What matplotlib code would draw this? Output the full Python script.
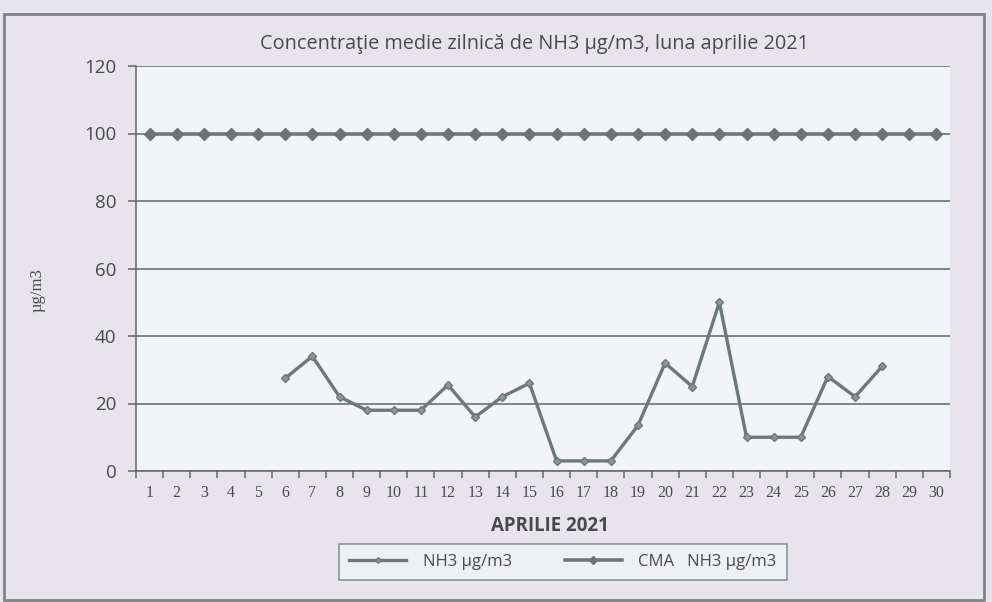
import numpy as np
import matplotlib
matplotlib.use('Agg')
import matplotlib.pyplot as plt
from matplotlib.patches import Rectangle

# data
days = list(range(1, 31))
nh3 = [np.nan, np.nan, np.nan, np.nan, np.nan,
       27.5, 34, 22, 18, 18, 18, 25.5, 16, 22, 26,
       3, 3, 3, 13.5, 32, 25, 50, 10, 10, 10, 28, 22, 31,
       np.nan, np.nan]
cma = [100] * 30
yticks = [0, 20, 40, 60, 80, 100, 120]

LINE = '#6e7875'
GRID = '#5e6864'
TXT = '#4a4a4a'

fig = plt.figure(figsize=(9.92, 6.02), dpi=100)
fig.patch.set_facecolor('#e7e5eb')

# outer chart frame
fig.patches.append(Rectangle((4 / 992, 1 - 600 / 602), 980 / 992, 586 / 602,
                             transform=fig.transFigure, fill=False,
                             edgecolor='#7d8682', linewidth=2))

ax = fig.add_axes([136 / 992, 1 - 471 / 602, (950 - 136) / 992, (471 - 66) / 602])
ax.set_facecolor('#f2f4f8')

ax.plot(days, nh3, color=LINE, linewidth=2.4, marker='D', markersize=4,
        markerfacecolor='#8c9692', markeredgecolor=LINE, label='NH3 µg/m3')
ax.plot(days, cma, color=LINE, linewidth=2.6, marker='D', markersize=6,
        markerfacecolor='#6a7471', markeredgecolor='#6a7471', label='CMA   NH3 µg/m3')

ax.set_xlim(0.5, 30.5)
ax.set_ylim(0, 120)
ax.set_yticks(yticks)
ax.yaxis.grid(True, color=GRID, linewidth=1.1)
ax.set_axisbelow(True)

ax.set_xticks(np.arange(0.5, 31, 1))
ax.set_xticklabels([])
ax.set_xticks(days, minor=True)
ax.set_xticklabels([str(d) for d in days], minor=True,
                   family='Liberation Serif', fontsize=11.5, color=TXT)
ax.tick_params(axis='x', which='major', direction='out', length=5, color=GRID, width=1.1)
ax.tick_params(axis='x', which='minor', length=0, pad=10)
ax.tick_params(axis='y', direction='out', length=6, color=GRID, width=1.1, pad=8)
for lab in ax.get_yticklabels():
    lab.set_family('Open Sans')
    lab.set_fontsize(13.5)
    lab.set_color(TXT)

for s in ['top', 'right']:
    ax.spines[s].set_visible(False)
ax.spines['left'].set_color(GRID)
ax.spines['bottom'].set_color(GRID)
ax.spines['left'].set_linewidth(1.1)
ax.spines['bottom'].set_linewidth(1.1)

fig.text(534 / 992, 1 - 44 / 602, 'Concentraţie medie zilnică de NH3 µg/m3, luna aprilie 2021',
         ha='center', va='center', family='Open Sans', fontsize=14.3, color=TXT)
fig.text(550 / 992, 1 - 526 / 602, 'APRILIE 2021', ha='center', va='center',
         family='Open Sans', fontweight='bold', fontsize=13.5, color=TXT)
fig.text(38 / 992, 1 - 290 / 602, 'µg/m3', ha='center', va='center', rotation=90,
         family='Liberation Serif', fontsize=12, color=TXT)

leg = fig.legend(loc='center', bbox_to_anchor=(563 / 992, 1 - 562 / 602), ncol=2,
                 frameon=True, fancybox=False, handlelength=3.4, columnspacing=3.2,
                 handletextpad=1.0, markerscale=0.7,
                 prop={'family': 'Open Sans', 'size': 12}, borderpad=0.6, borderaxespad=0)
leg.get_frame().set_edgecolor('#6e7875')
leg.get_frame().set_facecolor('#f2f3f7')
leg.get_frame().set_linewidth(1.1)
for t in leg.get_texts():
    t.set_color(TXT)

fig.savefig('out.png', dpi=100, facecolor=fig.get_facecolor())
